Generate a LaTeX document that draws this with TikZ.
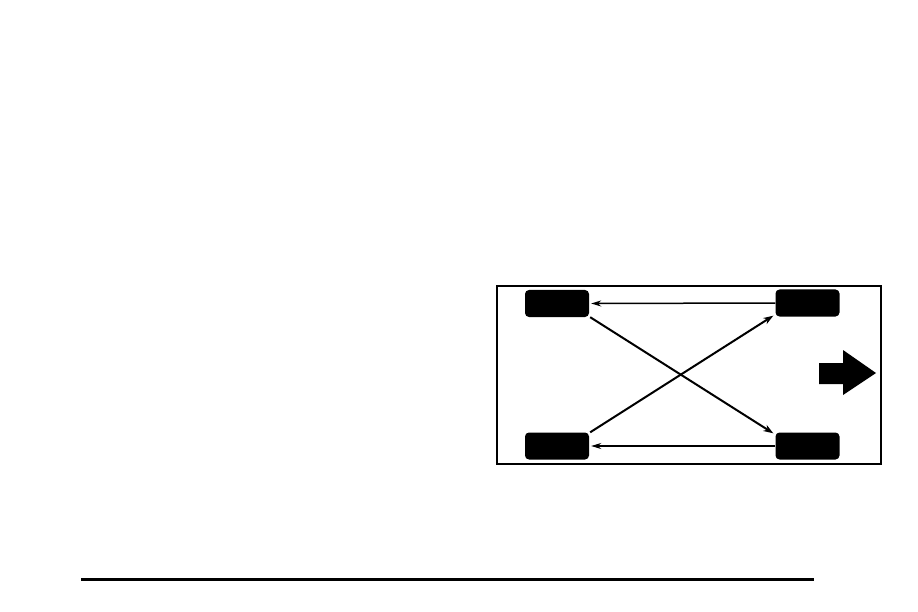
\documentclass[tikz,border=0pt]{standalone}
\usetikzlibrary{arrows.meta}
\begin{document}
\begin{tikzpicture}[x=1pt,y=-1pt,
  tire/.style={fill=black,rounded corners=4pt,minimum width=64pt,minimum height=27pt,inner sep=0pt},
  rot/.style={line width=2pt,-{Stealth[length=10pt,width=7pt]}},
  roth/.style={line width=1.5pt,-{Stealth[length=10pt,width=6pt]}}]
\useasboundingbox (0,0) rectangle (918,612);
\draw[line width=2pt] (497,286) rectangle (881,464);
\node[tire] (tl) at (557,303.5) {};
\node[tire] (tr) at (807.5,303) {};
\node[tire] (bl) at (557,446) {};
\node[tire] (br) at (807.5,446) {};
\draw[roth] (tr.west) -- ([xshift=2pt]tl.east);
\draw[roth] (br.west) -- ([xshift=2pt]bl.east);
\draw[rot] ([shift={(1pt,0pt)}]tl.south east) -- ([shift={(-2pt,-1pt)}]br.north west);
\draw[rot] ([shift={(1pt,0pt)}]bl.north east) -- ([shift={(-2pt,1pt)}]tr.south west);
\fill (819,363) -- (843,363) -- (843,350) -- (876,373) -- (843,395) -- (843,384) -- (819,384) -- cycle;
\draw[line width=3pt] (81,579.5) -- (814,579.5);
\end{tikzpicture}
\end{document}
